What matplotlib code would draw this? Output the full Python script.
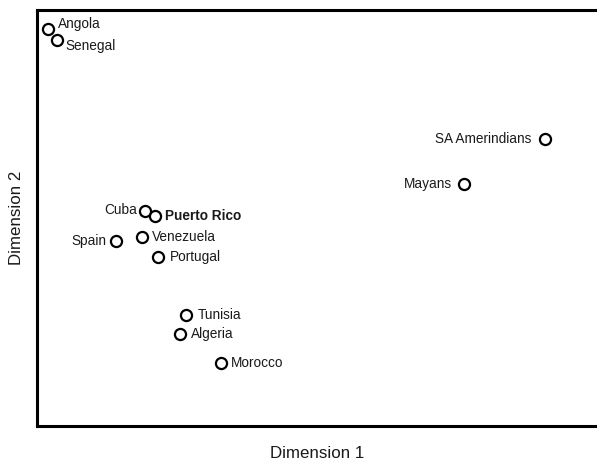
import matplotlib
matplotlib.use("Agg")
import matplotlib.pyplot as plt

plt.rcParams['font.family'] = ['Liberation Sans', 'DejaVu Sans']

names = ["Angola", "Senegal", "SA Amerindians", "Mayans", "Cuba", "Puerto Rico",
         "Spain", "Venezuela", "Portugal", "Tunisia", "Algeria", "Morocco"]
dim1 = [2.0, 3.6, 90.4, 75.9, 19.3, 21.0, 14.1, 18.7, 21.6, 26.6, 25.5, 32.8]
dim2 = [95.4, 92.8, 69.0, 58.2, 51.7, 50.5, 44.5, 45.4, 40.6, 26.7, 22.1, 15.1]

# label placement (offset in points, alignment)
offsets = {
    "Angola": (7, 4, 'left'),
    "Senegal": (6, -4, 'left'),
    "SA Amerindians": (-10, 0, 'right'),
    "Mayans": (-8, 0, 'right'),
    "Cuba": (-6, 1, 'right'),
    "Puerto Rico": (7, 0, 'left'),
    "Spain": (-7, 0, 'right'),
    "Venezuela": (7, 0, 'left'),
    "Portugal": (8, 0, 'left'),
    "Tunisia": (8, 0, 'left'),
    "Algeria": (8, 0, 'left'),
    "Morocco": (7, 0, 'left'),
}

fig = plt.figure(figsize=(5.97, 4.61), dpi=100)
ax = fig.add_axes([37/597, 1 - 426/461, 562/597, 416/461])
ax.plot(dim1, dim2, 'o', mfc='white', mec='black', ms=8.0, mew=1.6, ls='none')
for n, x, y in zip(names, dim1, dim2):
    dx, dy, ha = offsets[n]
    ax.annotate(n, (x, y), xytext=(dx, dy), textcoords='offset points',
                ha=ha, va='center', fontsize=9.8, color='#1a1a1a',
                fontweight='bold' if n == "Puerto Rico" else 'normal')
ax.set_xlim(0, 100)
ax.set_ylim(0, 100)
ax.set_xticks([])
ax.set_yticks([])
for s in ax.spines.values():
    s.set_linewidth(2.2)
ax.spines['right'].set_visible(False)
fig.text(317/597, 1 - 453/461, "Dimension 1", ha='center', va='center', fontsize=12.2, color='#1a1a1a')
fig.text(17/597, 1 - 218/461, "Dimension 2", ha='center', va='center', rotation=90, fontsize=12.2, color='#1a1a1a')
fig.savefig("out.png", dpi=100)
